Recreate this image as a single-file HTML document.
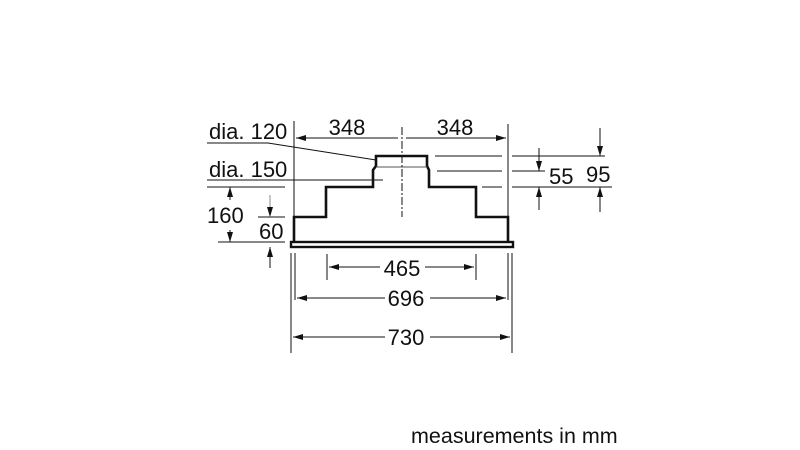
<!DOCTYPE html>
<html><head><style>
html,body{margin:0;padding:0;background:#fff;}
svg{display:block;}
text{font-family:"Liberation Sans",sans-serif;fill:#111;}
</style></head><body>
<svg width="800" height="450" viewBox="0 0 800 450" xmlns="http://www.w3.org/2000/svg">
<defs>
<marker id="a" viewBox="0 0 10 6" refX="10" refY="3" markerWidth="10" markerHeight="6" markerUnits="userSpaceOnUse" orient="auto"><path d="M0,0L10,3L0,6z" fill="#111"/></marker>
</defs>
<g stroke="#111" fill="none">
<path d="M376,158 V156 H427 V166 L429,170 V187 H476 V217 H508 V242 M376,158 V166 L373,170 V187 H326 V217 H294 V242" stroke-width="2.6"/>
<path d="M376,167 H427" stroke-width="1" stroke="#555"/>
<rect x="291" y="242" width="222" height="5" stroke-width="2.4" fill="#fff"/>
<path d="M402,127 V217" stroke-width="1" stroke-dasharray="8,2,2,2"/>
<path d="M294,121 V217 M508,124 V217" stroke-width="1"/>
<path d="M398,138 H296" stroke-width="1" marker-end="url(#a)"/>
<path d="M406,138 H506" stroke-width="1" marker-end="url(#a)"/>
<path d="M207,143 H268 L376,160" stroke-width="1"/>
<path d="M207,180 H383" stroke-width="1"/>
<path d="M435,156 H502 M512,156 H605 M437,171 H502 M512,171 H545 M482,187 H502 M512,187 H612" stroke-width="1"/>
<path d="M539,148 V171" stroke-width="1" marker-end="url(#a)"/>
<path d="M539,210 V187" stroke-width="1" marker-end="url(#a)"/>
<path d="M600,128 V156" stroke-width="1" marker-end="url(#a)"/>
<path d="M600,212 V187" stroke-width="1" marker-end="url(#a)"/>
<path d="M207,187 H285 M218,242 H285 M258,217 H285" stroke-width="1"/>
<path d="M230,200 V187" stroke-width="1" marker-end="url(#a)"/>
<path d="M230,230 V242" stroke-width="1" marker-end="url(#a)"/>
<path d="M270,195 V217" stroke-width="1" stroke="#888" marker-end="url(#a)"/>
<path d="M270,268 V247" stroke-width="1" marker-end="url(#a)"/>
<path d="M291,253 V353 M295,253 V300 M508,253 V300 M512,253 V353 M327,254 V280 M476,254 V280" stroke-width="1"/>
<path d="M380,267 H329" stroke-width="1" marker-end="url(#a)"/>
<path d="M425,267 H474" stroke-width="1" marker-end="url(#a)"/>
<path d="M385,298 H297" stroke-width="1" marker-end="url(#a)"/>
<path d="M430,298 H506" stroke-width="1" marker-end="url(#a)"/>
<path d="M385,337 H293" stroke-width="1" marker-end="url(#a)"/>
<path d="M430,337 H510" stroke-width="1" marker-end="url(#a)"/>
</g>
<g font-size="22">
<text x="347" y="135" text-anchor="middle">348</text>
<text x="455" y="135" text-anchor="middle">348</text>
<text x="209" y="139">dia. 120</text>
<text x="209" y="177">dia. 150</text>
<text x="207" y="223">160</text>
<text x="259" y="239">60</text>
<text x="549" y="184">55</text>
<text x="586" y="182">95</text>
<text x="402" y="276" text-anchor="middle" style="paint-order:stroke" stroke="#fff" stroke-width="6">465</text>
<text x="406" y="306" text-anchor="middle" style="paint-order:stroke" stroke="#fff" stroke-width="6">696</text>
<text x="406" y="345" text-anchor="middle" style="paint-order:stroke" stroke="#fff" stroke-width="6">730</text>
<text x="411" y="443" font-size="21.5">measurements in mm</text>
</g>
</svg>
</body></html>
